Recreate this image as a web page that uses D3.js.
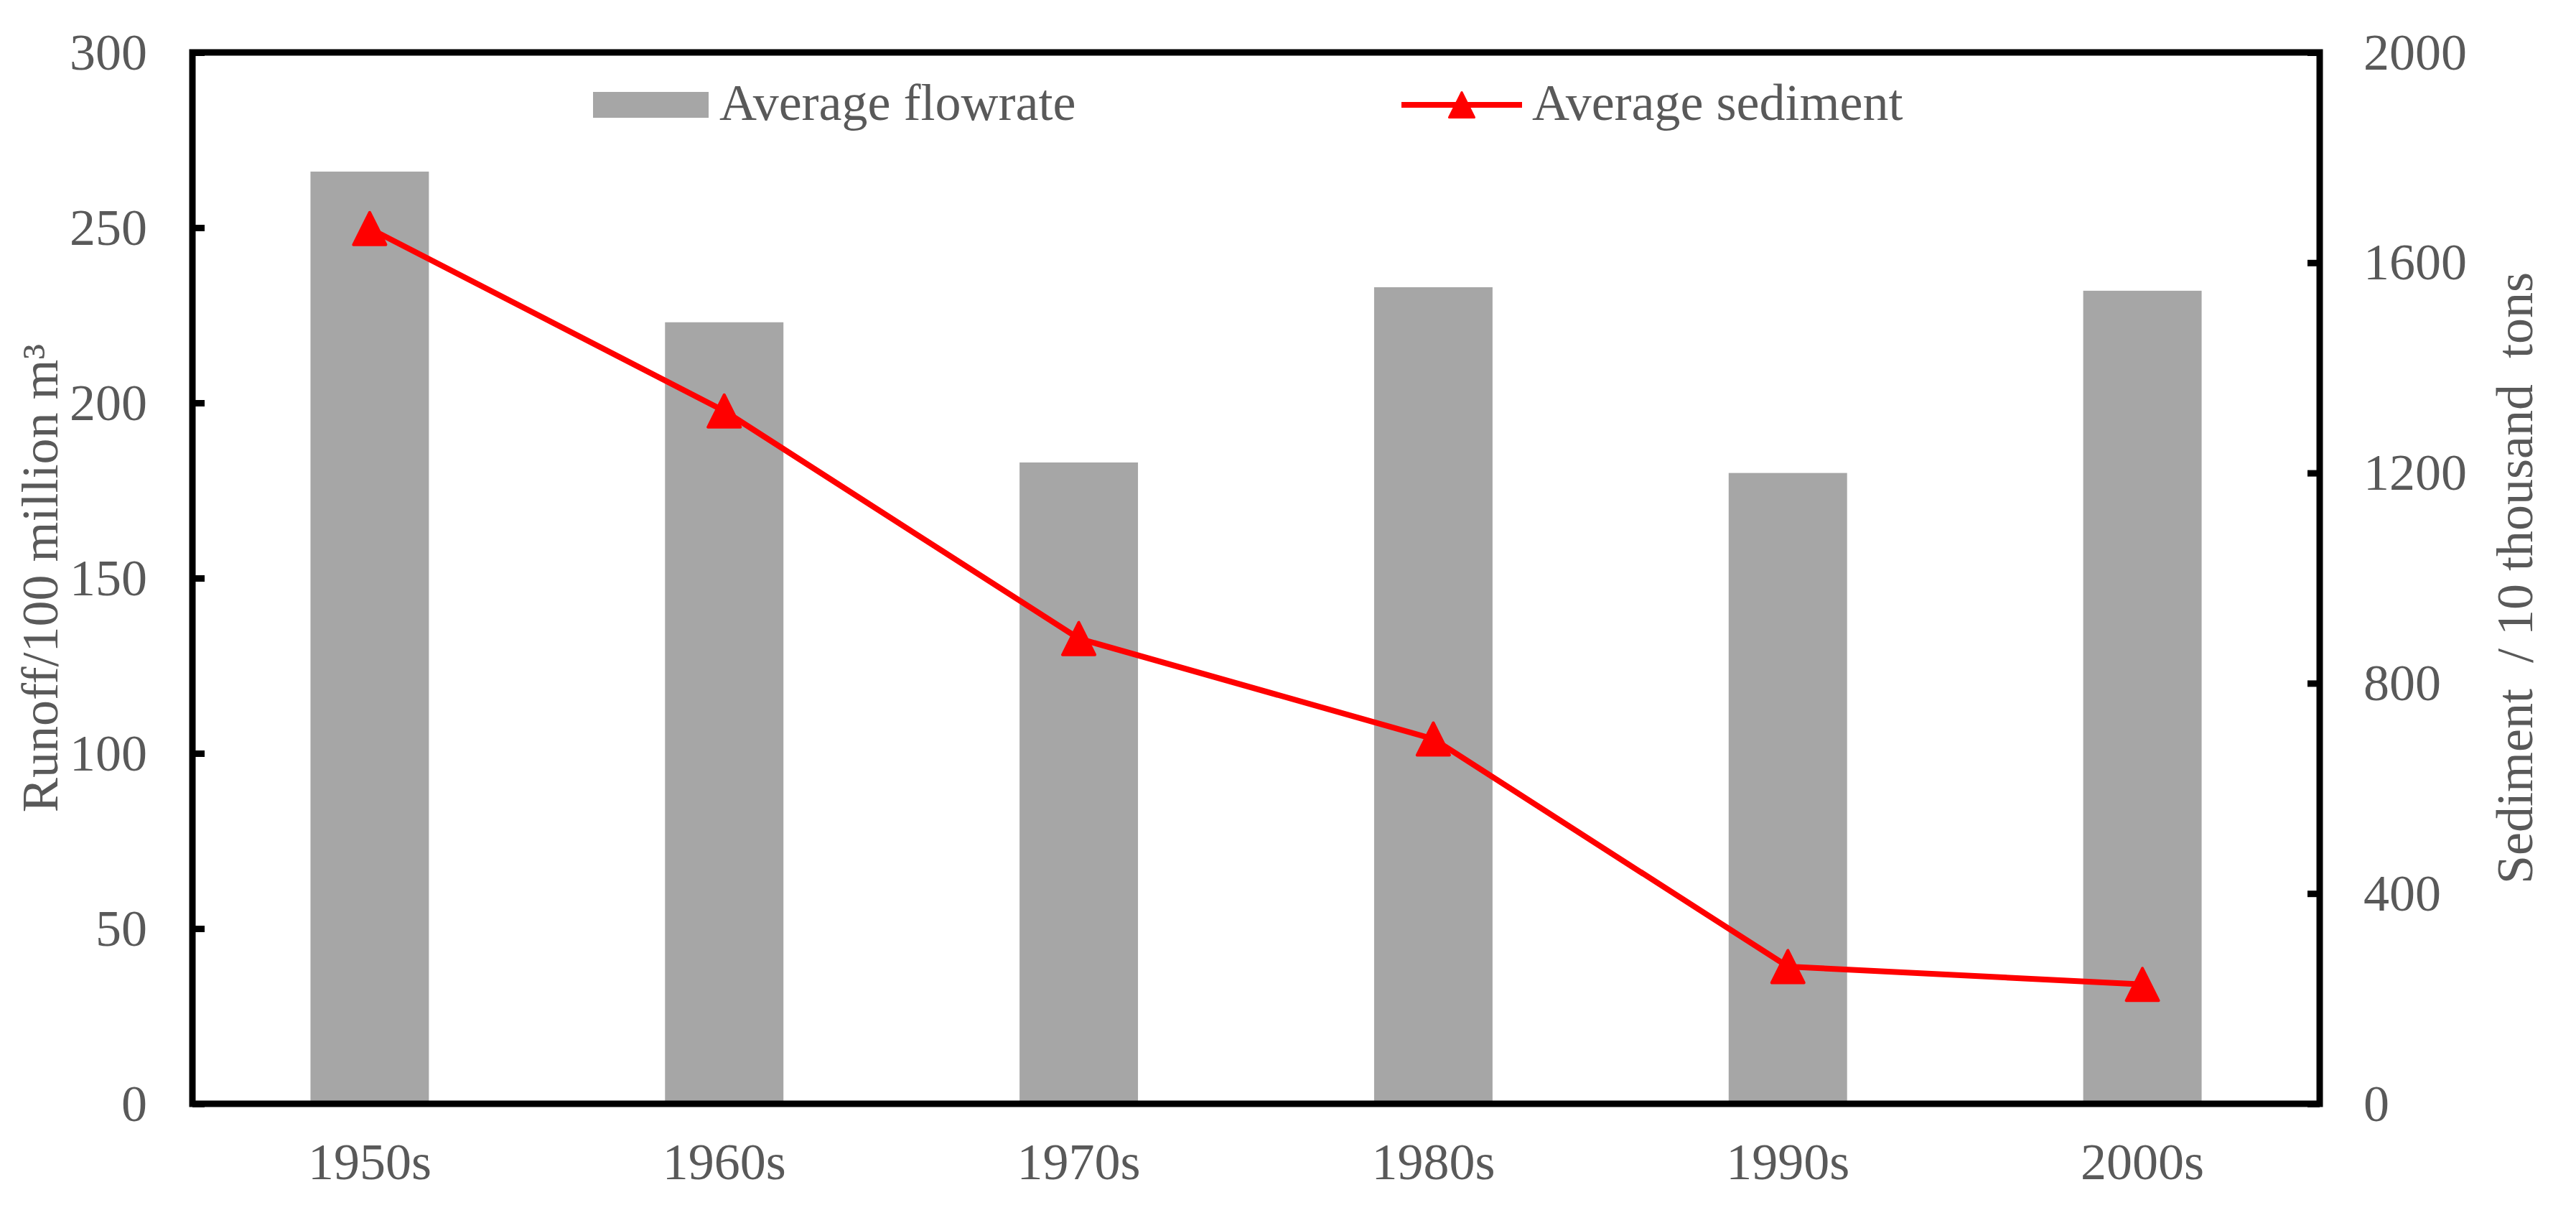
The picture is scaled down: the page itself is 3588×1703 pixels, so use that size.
<!DOCTYPE html>
<html>
<head>
<meta charset="utf-8">
<script src="https://cdn.jsdelivr.net/npm/d3@7"></script>
<style>
  html, body { margin: 0; padding: 0; background: #fff; }
  svg text { font-family: "Liberation Serif", "Times New Roman", serif; fill: #595959; }
</style>
</head>
<body>
<svg id="chart" width="3588" height="1703"></svg>
<script>
// ---- data ----
const categories = ["1950s", "1960s", "1970s", "1980s", "1990s", "2000s"];
const flowrate = [266, 223, 183, 233, 180, 232];          // Runoff / 100 million m3
const sediment = [1665, 1318, 885, 694, 261, 227];       // Sediment / 10 thousand tons
const leftTicks = [0, 50, 100, 150, 200, 250, 300];
const rightTicks = [0, 400, 800, 1200, 1600, 2000];
const seriesNames = ["Average flowrate", "Average sediment"];
const leftTitle = "Runoff/100 million m³";
const rightTitle = "Sediment  / 10 thousand  tons";

// ---- layout ----
const W = 3588, H = 1703;
const L = 268, R = 3231, T = 73, B = 1537;
const FS = 72;
const TXT = "#595959", BAR = "#A6A6A6", RED = "#FF0000";

const svg = d3.select("#chart");

const x = d3.scaleBand().domain(categories).range([L, R]).padding(0);
const yL = d3.scaleLinear().domain([0, 300]).range([B, T]);
const yR = d3.scaleLinear().domain([0, 2000]).range([B, T]);
const barW = x.bandwidth() * 0.334;

// bars
svg.append("g").selectAll("rect")
  .data(categories.map((c, i) => ({ c, v: flowrate[i] })))
  .join("rect")
  .attr("x", d => x(d.c) + x.bandwidth() / 2 - barW / 2)
  .attr("width", barW)
  .attr("y", d => yL(d.v))
  .attr("height", d => yL(0) - yL(d.v))
  .attr("fill", BAR);

// line
const pts = categories.map((c, i) => [x(c) + x.bandwidth() / 2, yR(sediment[i])]);
svg.append("path")
  .attr("d", d3.line()(pts))
  .attr("fill", "none")
  .attr("stroke", RED)
  .attr("stroke-width", 8)
  .attr("stroke-linejoin", "round");

function tri(s) {
  return `M${-s/2},${s/2} L${s/2},${s/2} L0,${-s/2} Z`;
}
svg.append("g").selectAll("path")
  .data(pts)
  .join("path")
  .attr("transform", d => `translate(${d[0]},${d[1]})`)
  .attr("d", tri(45))
  .attr("fill", RED)
  .attr("stroke", RED)
  .attr("stroke-width", 4)
  .attr("stroke-linejoin", "round");

// axes
const axL = svg.append("g").attr("transform", `translate(${L},0)`)
  .call(d3.axisLeft(yL).tickValues(leftTicks).tickSize(-17).tickPadding(63).tickFormat(d3.format("d")));
const axR = svg.append("g").attr("transform", `translate(${R},0)`)
  .call(d3.axisRight(yR).tickValues(rightTicks).tickSize(-17).tickPadding(61).tickFormat(d3.format("d")));
const axB = svg.append("g").attr("transform", `translate(0,${B})`)
  .call(d3.axisBottom(x).tickSize(0).tickPadding(54));

[axL, axR, axB].forEach(g => {
  g.select(".domain").remove();
  g.selectAll("line").attr("stroke", "#000").attr("stroke-width", 9);
  g.selectAll("text").attr("font-size", FS).attr("fill", TXT)
    .attr("font-family", '"Liberation Serif", "Times New Roman", serif');
});

// frame
svg.append("rect")
  .attr("x", L).attr("y", T).attr("width", R - L).attr("height", B - T)
  .attr("fill", "none").attr("stroke", "#000").attr("stroke-width", 9);

// axis titles
svg.append("text")
  .attr("transform", `translate(80,${(T + B) / 2}) rotate(-90)`)
  .attr("text-anchor", "middle")
  .attr("font-size", FS)
  .text(leftTitle);

svg.append("text")
  .attr("transform", `translate(3527,${(T + B) / 2}) rotate(-90)`)
  .attr("text-anchor", "middle")
  .attr("font-size", FS)
  .attr("xml:space", "preserve")
  .style("white-space", "pre")
  .text(rightTitle);

// legend
const lg = svg.append("g");
lg.append("rect").attr("x", 826).attr("y", 128).attr("width", 161).attr("height", 36).attr("fill", BAR);
lg.append("text").attr("x", 1002).attr("y", 167).attr("font-size", FS).text(seriesNames[0]);
lg.append("line").attr("x1", 1952).attr("x2", 2120).attr("y1", 146).attr("y2", 146)
  .attr("stroke", RED).attr("stroke-width", 8);
lg.append("path").attr("transform", "translate(2036,146)").attr("d", tri(35))
  .attr("fill", RED).attr("stroke", RED).attr("stroke-width", 3).attr("stroke-linejoin", "round");
lg.append("text").attr("x", 2134).attr("y", 167).attr("font-size", FS).text(seriesNames[1]);
</script>
</body>
</html>
